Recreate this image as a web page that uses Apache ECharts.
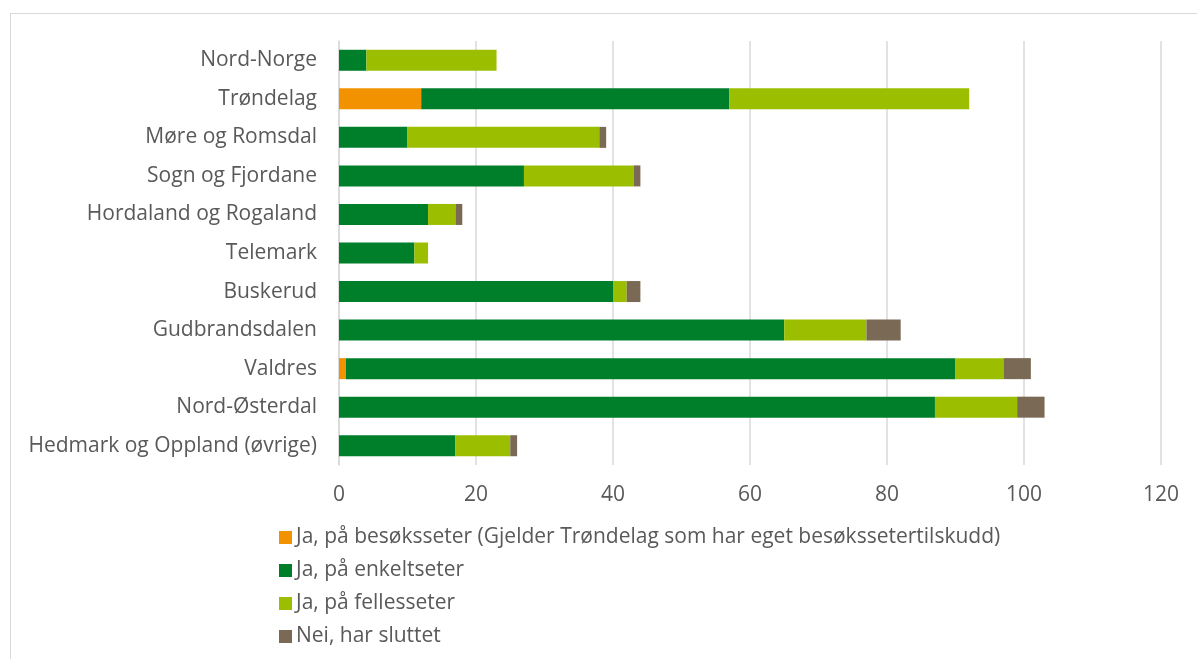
<!DOCTYPE html>
<html>
<head>
<meta charset="utf-8">
<script src="https://cdn.jsdelivr.net/npm/echarts@6/dist/echarts.min.js"></script>
<style>
  html, body { margin: 0; padding: 0; background: #fff; }
  .frame {
    position: absolute; left: 10px; top: 13px;
    width: 1200px; height: 660px;
    border: 1.5px solid #d9d9d9;
  }
  #chart { position: absolute; left: 0; top: 0; width: 1197px; height: 659px; }
</style>
</head>
<body>
<div class="frame"></div>
<div id="chart"></div>
<script>
const regions = ['Nord-Norge', 'Trøndelag', 'Møre og Romsdal', 'Sogn og Fjordane', 'Hordaland og Rogaland',
  'Telemark', 'Buskerud', 'Gudbrandsdalen', 'Valdres', 'Nord-Østerdal', 'Hedmark og Oppland (øvrige)'];
const besokseter = [0, 12, 0, 0, 0, 0, 0, 0, 1, 0, 0];
const enkeltseter = [4, 45, 10, 27, 13, 11, 40, 65, 89, 87, 17];
const fellesseter = [19, 35, 28, 16, 4, 2, 2, 12, 7, 12, 8];
const sluttet = [0, 0, 1, 1, 1, 0, 2, 5, 4, 4, 1];
const xTicks = [0, 20, 40, 60, 80, 100, 120];

const chart = echarts.init(document.getElementById('chart'));
const font = 'Open Sans, Liberation Sans, sans-serif';

function bar(name, data, color) {
  return {
    name: name,
    type: 'bar',
    stack: 'total',
    data: data,
    barWidth: 21,
    itemStyle: { color: color },
    emphasis: { disabled: true }
  };
}

const option = {
  animation: false,
  textStyle: { fontFamily: font },
  grid: { left: 339, right: 36, top: 41, bottom: 194 },
  legend: {
    orient: 'vertical',
    left: 274,
    top: 522,
    itemWidth: 13,
    itemHeight: 13,
    itemGap: 12,
    icon: 'rect',
    textStyle: { fontSize: 21, color: '#595959', fontFamily: font, padding: [0, 0, 0, -1] },
    data: ['Ja, på besøksseter (Gjelder Trøndelag som har eget besøkssetertilskudd)',
      'Ja, på enkeltseter', 'Ja, på fellesseter', 'Nei, har sluttet']
  },
  xAxis: {
    type: 'value',
    min: 0,
    max: xTicks[xTicks.length - 1],
    interval: 20,
    axisLine: { show: false },
    axisTick: { show: false },
    splitLine: { lineStyle: { color: '#d9d9d9', width: 1.5 } },
    axisLabel: { fontSize: 21, color: '#595959', margin: 20 }
  },
  yAxis: {
    type: 'category',
    inverse: true,
    data: regions,
    axisLine: { lineStyle: { color: '#d9d9d9', width: 1.5 } },
    axisTick: { show: false },
    axisLabel: { fontSize: 21, color: '#595959', margin: 22, padding: [4, 0, 0, 0] }
  },
  series: [
    bar('Ja, på besøksseter (Gjelder Trøndelag som har eget besøkssetertilskudd)', besokseter, '#f39200'),
    bar('Ja, på enkeltseter', enkeltseter, '#007f2b'),
    bar('Ja, på fellesseter', fellesseter, '#9bbf00'),
    bar('Nei, har sluttet', sluttet, '#7a6a55')
  ]
};

chart.setOption(option);
</script>
</body>
</html>
